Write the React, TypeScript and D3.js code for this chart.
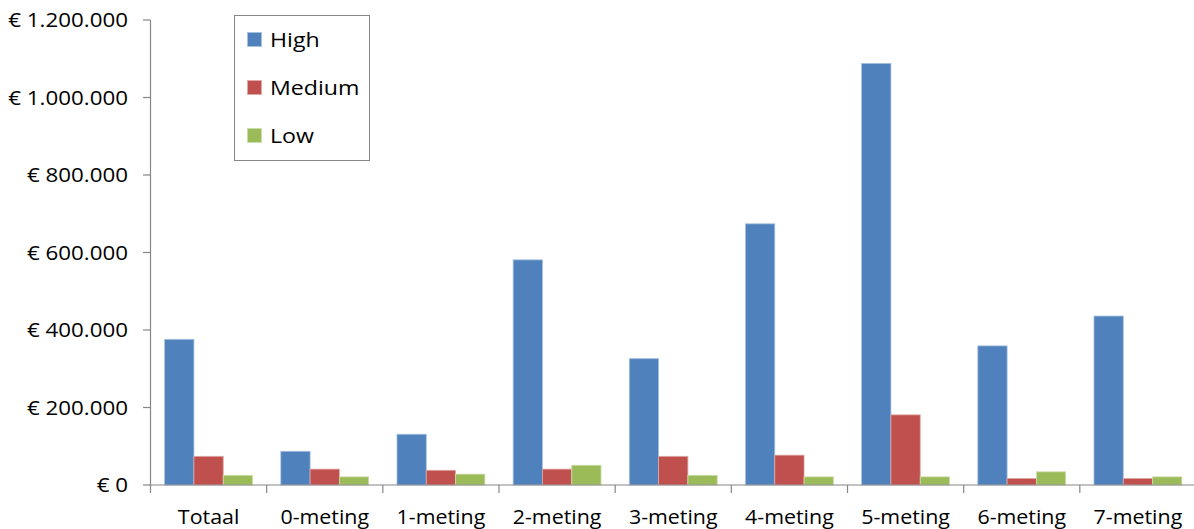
import React from "react";
import * as d3 from "d3";

const categories = ["Totaal", "0-meting", "1-meting", "2-meting", "3-meting", "4-meting", "5-meting", "6-meting", "7-meting"];
const seriesNames = ["High", "Medium", "Low"];
const highValues = [376000, 87000, 131000, 581000, 326000, 674000, 1088000, 359000, 436000];
const mediumValues = [74000, 41000, 38000, 41000, 74000, 77000, 181000, 17000, 17000];
const lowValues = [25000, 21000, 28000, 51000, 25000, 21000, 21000, 34000, 21000];
const yTicks = [0, 200000, 400000, 600000, 800000, 1000000, 1200000];

const colors = ["#4F81BD", "#C0504D", "#9BBB59"];
const strokes = ["#A7C0DE", "#E0A8A6", "#CDDDAC"];

const W = 1194;
const H = 529;
const left = 150.5;
const right = 1196;
const top = 20;
const bottom = 485;
const FONT = "'Open Sans', sans-serif";

function fmt(v: number) {
  if (v === 0) return "€ 0";
  const s = Math.round(v).toString().replace(/\B(?=(\d{3})+(?!\d))/g, ".");
  return "€ " + s;
}

export default function App() {
  const x0 = d3.scaleBand<string>().domain(categories).range([left, right]).paddingInner(0).paddingOuter(0);
  const x1 = d3.scaleBand<string>().domain(seriesNames).range([0, x0.bandwidth()]).paddingInner(0).paddingOuter(0.483);
  const y = d3.scaleLinear().domain([0, 1200000]).range([bottom, top]);
  const data = [highValues, mediumValues, lowValues];
  const axisColor = "#868686";

  return (
    <svg width={W} height={H} style={{ position: "absolute", left: 0, top: 0, background: "#fff" }}>
      {/* bars */}
      {categories.map((c, ci) => (
        <g key={c}>
          {seriesNames.map((s, si) => {
            const v = data[si][ci];
            const x = (x0(c) as number) + (x1(s) as number);
            return (
              <rect
                key={s}
                x={x}
                y={y(v)}
                width={x1.bandwidth()}
                height={bottom - y(v)}
                fill={colors[si]}
                stroke={strokes[si]}
                strokeWidth={0.8}
              />
            );
          })}
        </g>
      ))}
      {/* y axis */}
      <line x1={left} x2={left} y1={top} y2={bottom} stroke={axisColor} strokeWidth={1.2} />
      {yTicks.map((t) => (
        <g key={t}>
          <line x1={left - 7.5} x2={left} y1={y(t)} y2={y(t)} stroke={axisColor} strokeWidth={1.2} />
          <g transform={`translate(128,${y(t)}) scale(1.09,1)`}>
            <text x={0} y={0} dy="0.35em" textAnchor="end" fontFamily={FONT} fontSize={20.5} fill="#000">
              {fmt(t)}
            </text>
          </g>
        </g>
      ))}
      {/* x axis */}
      <line x1={left} x2={right} y1={bottom} y2={bottom} stroke={axisColor} strokeWidth={1.2} />
      {categories.map((c) => (
        <line
          key={"t" + c}
          x1={x0(c) as number}
          x2={x0(c) as number}
          y1={bottom}
          y2={bottom + 8}
          stroke={axisColor}
          strokeWidth={1.2}
        />
      ))}
      {categories.map((c) => (
        <g key={"l" + c} transform={`translate(${(x0(c) as number) + x0.bandwidth() / 2},524) scale(1.07,1)`}>
          <text x={0} y={0} textAnchor="middle" fontFamily={FONT} fontSize={20} fill="#000">
            {c}
          </text>
        </g>
      ))}
      {/* legend */}
      <rect x={234.5} y={15.5} width={135} height={145} fill="#fff" stroke={axisColor} strokeWidth={1} />
      {seriesNames.map((s, i) => (
        <g key={"lg" + s}>
          <rect x={247.5} y={32.5 + i * 48} width={14} height={14} fill={colors[i]} stroke={strokes[i]} strokeWidth={0.8} />
          <g transform={`translate(270,${39.5 + i * 48}) scale(1.13,1)`}>
            <text x={0} y={0} dy="0.35em" fontFamily={FONT} fontSize={20.5} fill="#000">
              {s}
            </text>
          </g>
        </g>
      ))}
    </svg>
  );
}
